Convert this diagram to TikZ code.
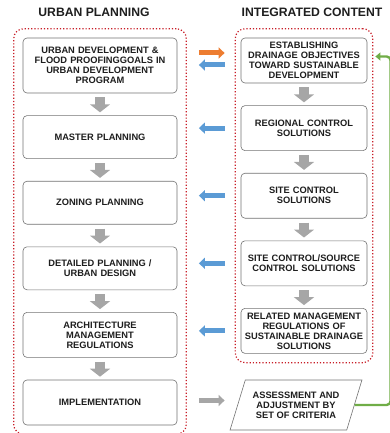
\documentclass[tikz,border=0pt]{standalone}
\usepackage{fontspec}
\setmainfont{Liberation Sans}
\usepackage{xcolor}
\usepackage{tikz}
\usetikzlibrary{shapes.geometric, arrows.meta, positioning, fit, calc}
\definecolor{clrBlue}{RGB}{91,155,213}
\definecolor{clrOrange}{RGB}{237,125,49}
\definecolor{clrGreen}{RGB}{112,173,71}
\definecolor{clrStep}{RGB}{166,166,166}
\definecolor{clrFrame}{RGB}{200,30,40}
\definecolor{clrDark}{RGB}{30,30,30}

\begin{document}
\begin{tikzpicture}[
  x=1pt, y=1pt,
  node distance=22pt,
  box/.style={
    rectangle, rounded corners=4pt, draw=black!55, fill=white, line width=0.6pt,
    minimum height=43pt, align=center, text=clrDark,
    font=\fontsize{9.3}{10}\selectfont\bfseries, inner sep=2pt
  },
  lbox/.style={box, minimum width=154pt, text width=150pt},
  rbox/.style={box, minimum width=124pt, text width=122pt, minimum height=45pt},
  frame/.style={draw=clrFrame, dotted, line width=1.2pt, rounded corners=10pt},
  title/.style={font=\fontsize{12.2}{13}\selectfont\bfseries, text=clrDark},
  down/.style={draw=clrStep, line width=10pt, -{Triangle[length=8pt,width=20pt]}},
  side/.style={line width=5pt, -{Triangle[length=6pt,width=11pt]}}
]
\useasboundingbox (0,0) rectangle (390,-433);

% Urban planning column
\node[lbox, minimum height=55pt] (goals) at (100,-65.5)
      {URBAN DEVELOPMENT \&\\FLOOD PROOFINGGOALS IN\\URBAN DEVELOPMENT\\PROGRAM};
\node[lbox, below=of goals]    (master)  {MASTER PLANNING};
\node[lbox, below=of master]   (zoning)  {ZONING PLANNING};
\node[lbox, below=of zoning]   (detail)  {DETAILED PLANNING /\\URBAN DESIGN};
\node[lbox, below=of detail, minimum height=45pt] (arch)
      {ARCHITECTURE\\MANAGEMENT\\REGULATIONS};
\node[lbox, below=of arch, minimum height=45pt]   (impl) {IMPLEMENTATION};

% Integrated content column
\node[rbox] (est) at (304,-60.5)
      {ESTABLISHING\\DRAINAGE OBJECTIVES\\TOWARD SUSTAINABLE\\DEVELOPMENT};
\node[rbox, below=of est]     (region)  {REGIONAL CONTROL\\SOLUTIONS};
\node[rbox, below=of region]  (site)    {SITE CONTROL\\SOLUTIONS};
\node[rbox, below=of site]    (source)  {SITE CONTROL/SOURCE\\CONTROL SOLUTIONS};
\node[rbox, below=of source]  (regul)
      {RELATED MANAGEMENT\\REGULATIONS OF\\SUSTAINABLE DRAINAGE\\SOLUTIONS};

\node[draw=black!55, fill=white, line width=0.6pt, trapezium,
      trapezium left angle=65, trapezium right angle=115,
      trapezium stretches=true, minimum width=132pt, minimum height=50pt,
      align=center, text=clrDark, font=\fontsize{9.3}{10}\selectfont\bfseries,
      inner sep=1pt] (assess) at (296,-405)
      {ASSESSMENT AND\\ADJUSTMENT BY\\SET OF CRITERIA};

% Dotted frames and headings
\node[frame, fit=(goals)(impl), inner xsep=9pt, inner ysep=9pt] (lframe) {};
\node[frame, fit=(est)(regul), inner xsep=5.5pt, inner ysep=9pt] (rframe) {};
\node[title] at (94,-12)  {URBAN PLANNING};
\node[title] at (312,-12) {INTEGRATED CONTENT};

% Step arrows
\foreach \a/\b in {goals/master, master/zoning, zoning/detail, detail/arch, arch/impl,
                   est/region, region/site, site/source, source/regul}
  \draw[down] ([yshift=-4pt]\a.south) -- ([yshift=3pt]\b.north);

% Links between the columns
\draw[side, draw=clrOrange] ([xshift=12pt,yshift=7.5pt]lframe.east |- est.east)
      -- ([xshift=-10pt,yshift=7.5pt]rframe.west |- est.east);
\draw[side, draw=clrBlue] ([xshift=-10pt,yshift=-4.5pt]rframe.west |- est.east)
      -- ([xshift=12pt,yshift=-4.5pt]lframe.east |- est.east);
\foreach \n in {region, site, source, regul}
  \draw[side, draw=clrBlue] ([xshift=-10pt]rframe.west |- \n.west)
        -- ([xshift=12pt]lframe.east |- \n.west);
\draw[side, draw=clrStep] ([xshift=12pt,yshift=2pt]lframe.east |- impl.east)
      -- ([xshift=-10pt,yshift=2pt]rframe.west |- impl.east);

% Feedback loop
\draw[draw=clrGreen, line width=2.4pt, rounded corners=4pt,
      -{Triangle[length=5pt,width=8pt]}]
      (assess.east) -- ++(36,0) |- ([xshift=2pt,yshift=4pt]rframe.east |- est.east);

\end{tikzpicture}
\end{document}
